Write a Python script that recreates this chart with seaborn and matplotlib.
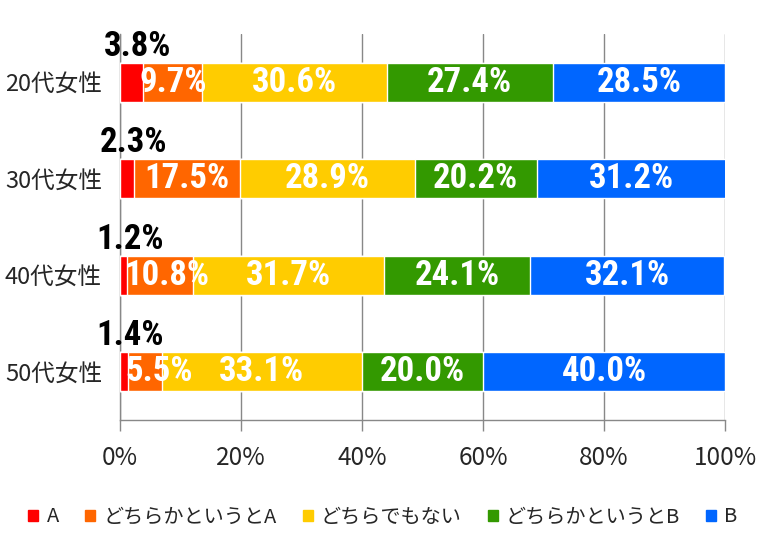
import seaborn as sns
import matplotlib.pyplot as plt
import matplotlib.patches as mpatches
import pandas as pd
import numpy as np

groups = ["20代女性", "30代女性", "40代女性", "50代女性"]
answers = ["A", "どちらかというとA", "どちらでもない", "どちらかというとB", "B"]
val_a = [3.8, 2.3, 1.2, 1.4]
val_lean_a = [9.7, 17.5, 10.8, 5.5]
val_neutral = [30.6, 28.9, 31.7, 33.1]
val_lean_b = [27.4, 20.2, 24.1, 20.0]
val_b = [28.5, 31.2, 32.1, 40.0]
colors = ["#FF0000", "#FF6600", "#FFCC00", "#339900", "#0066FF"]

sns.set_style("white")
plt.rcParams['font.family'] = ['Noto Sans CJK JP', 'DejaVu Sans']

series = [val_a, val_lean_a, val_neutral, val_lean_b, val_b]
df = pd.DataFrame(dict(zip(answers, series)), index=groups)
cum = df.cumsum(axis=1)

fig = plt.figure(figsize=(7.66, 5.5), dpi=100)
ax = fig.add_axes([120/766, 1 - 420/550, 605/766, 386/550])

# stacked bars: draw cumulative totals from the longest down
for name, c in zip(answers[::-1], colors[::-1]):
    sns.barplot(ax=ax, x=cum[name].values, y=groups, color=c, width=0.4,
                orient="h", saturation=1, zorder=3)

label_font = ['Liberation Sans Narrow', 'Roboto Condensed', 'Open Sans Condensed',
              'Roboto', 'DejaVu Sans']
for i, g in enumerate(groups):
    start = 0
    for j, name in enumerate(answers):
        v = df.loc[g, name]
        if j == 0:
            ax.text(start + v / 2 + 1, i - 0.2, f"{v:.1f}%", ha="center", va="bottom",
                    fontsize=25, fontweight="bold", color="black",
                    family=label_font, zorder=5)
        elif v < 12:
            ax.text(start - 0.5, i, f"{v:.1f}%", ha="left", va="center",
                    fontsize=25, fontweight="bold", color="white",
                    family=label_font, zorder=5)
        else:
            ax.text(start + v / 2, i, f"{v:.1f}%", ha="center", va="center",
                    fontsize=25, fontweight="bold", color="white",
                    family=label_font, zorder=5)
        start += v

ax.set_xlim(0, 100)
ax.set_ylim(3.5, -0.5)
ax.set_xticks(np.arange(0, 101, 20))
ax.set_xticklabels([f"{t}%" for t in range(0, 101, 20)], fontsize=17.5)
ax.set_yticks(range(len(groups)))
ax.set_yticklabels(groups, fontsize=17)
ax.set_yticks(np.arange(-0.5, 4, 1), minor=True)
ax.tick_params(axis="y", which="major", length=0, pad=13)
ax.tick_params(axis="y", which="minor", length=7, color="#888888", width=1)
ax.tick_params(axis="x", length=8, color="#888888", width=1, pad=10, bottom=True)
ax.set_xlabel("")
ax.set_ylabel("")
ax.xaxis.grid(True, color="#888888", linewidth=1, zorder=0)
ax.set_axisbelow(True)
for s in ["top", "right"]:
    ax.spines[s].set_visible(False)
for s in ["left", "bottom"]:
    ax.spines[s].set_color("#888888")
    ax.spines[s].set_linewidth(1)

handles = [mpatches.Patch(color=c, label=n) for n, c in zip(answers, colors)]
fig.legend(handles=handles, loc="center", bbox_to_anchor=(0.5, 0.06), ncol=5,
           frameon=False, fontsize=14.5, handlelength=0.5, handleheight=0.5,
           handletextpad=0.4, columnspacing=1.3)

fig.savefig("out.png", dpi=100)
